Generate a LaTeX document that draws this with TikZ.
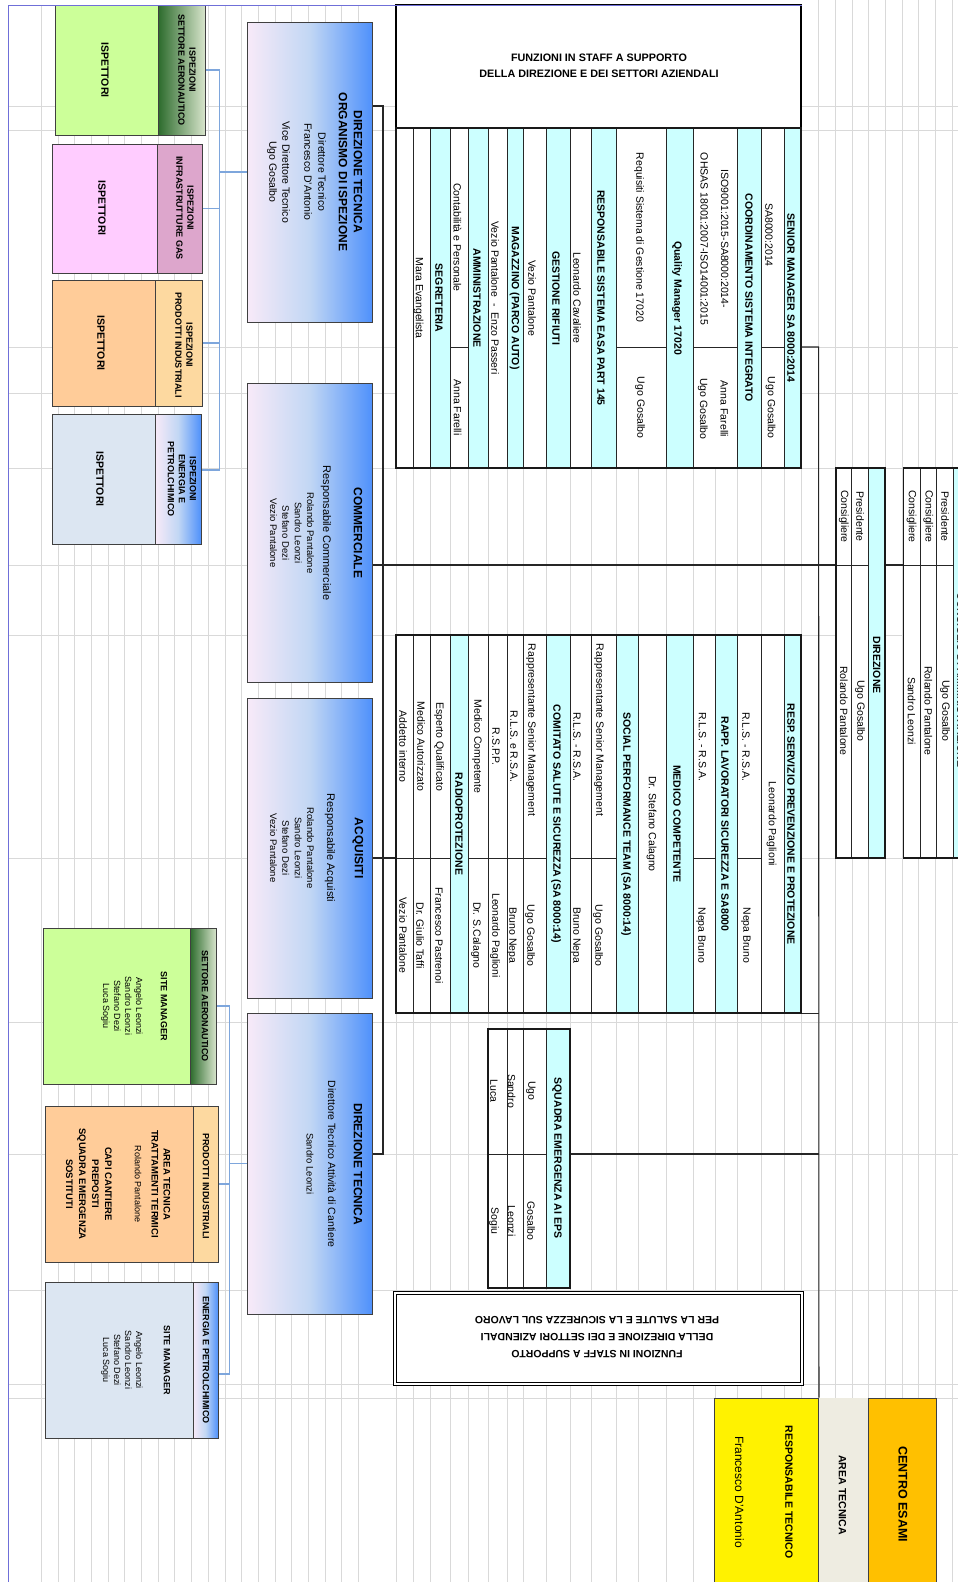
\documentclass[tikz,border=0pt]{standalone}
\usepackage{fontspec}
\setmainfont{Liberation Sans}
\definecolor{cyanfill}{HTML}{CCFFFF}
\definecolor{gridgray}{HTML}{D9D9D9}
\definecolor{framebl}{HTML}{6F6FD8}
\definecolor{linkblue}{HTML}{7EA6DC}
\definecolor{bigleft}{HTML}{F8EAF8}
\definecolor{bigmid}{HTML}{C2D7F4}
\definecolor{bigright}{HTML}{4F91FB}
\definecolor{greenbody}{HTML}{CCFF99}
\definecolor{greendark}{HTML}{2C6B2C}
\definecolor{greenlight}{HTML}{D7E4CB}
\definecolor{pinkbody}{HTML}{FFCCFF}
\definecolor{pinkhead}{HTML}{DDA6CC}
\definecolor{orangebody}{HTML}{FFCC99}
\definecolor{orangehead}{HTML}{FDD9A0}
\definecolor{greybody}{HTML}{DCE6F2}
\definecolor{esamiorange}{HTML}{FFC000}
\definecolor{areabeige}{HTML}{EEECE1}
\tikzset{
%Define line styles
gridline/.style={draw=gridgray, line width=0.8pt},
link/.style={draw=black!85, line width=1.1pt},
bluelink/.style={draw=linkblue, line width=1.1pt},
%Define box styles
box/.style={draw=black!75, line width=1pt, inner sep=0},
cell/.style={draw=black!85, line width=0.7pt, inner sep=0},
outline/.style={draw=black!90, line width=1.2pt, inner sep=0},
bluegrad/.style={left color=bigleft, right color=bigright, middle color=bigmid},
greengrad/.style={left color=greendark, right color=greenlight},
%Define text styles (text runs top to bottom)
lbl/.style={rotate=-90, inner sep=0, align=center, font=\fontsize{10.5}{12}\selectfont},
lblwide/.style={lbl, font=\fontsize{10.5}{20.5}\selectfont},
hdr/.style={lbl, font=\bfseries\fontsize{10.5}{12}\selectfont},
title/.style={lbl, font=\bfseries\fontsize{12}{15}\selectfont},
names/.style={lbl, font=\fontsize{9.5}{12.3}\selectfont},
boxhdr/.style={lbl, font=\bfseries\fontsize{9}{11}\selectfont},
boxtxt/.style={lbl, font=\fontsize{9}{11}\selectfont},
}
\begin{document}
\begin{tikzpicture}[x=1pt,y=-1pt]
\useasboundingbox (0,0) rectangle (958,1582);
\clip (0,0) rectangle (958,1582);
% Spreadsheet grid behind the chart
\foreach \x in {41.2,57.9,...,375} \draw[gridline] (\x,5) -- (\x,1582);
\foreach \x in {396,413,430,450,468.5,488,507,523,546,570,591,616,638,666,693,715,737.5,761.5,784,801} \draw[gridline] (\x,5) -- (\x,1582);
\foreach \x in {818.6,835.3,...,960} \draw[gridline] (\x,0) -- (\x,1582);
\foreach \y in {106,130,347,393,468,565,635,858,1022,1154,1290,1384,1398} \draw[gridline] (8,\y) -- (958,\y);

% Inspection units (top left)
\node[box, fill=greenbody, minimum width=103pt, minimum height=130pt] (insp1) at (106.5,70) {};
\node[box, greengrad, minimum width=47pt, minimum height=130pt] (insp1head) at (181.5,70) {};
\node[box, fill=pinkbody, minimum width=105pt, minimum height=129pt] (insp2) at (104.5,208.5) {};
\node[box, fill=pinkhead, minimum width=45pt, minimum height=129pt] (insp2head) at (179.5,208.5) {};
\node[box, fill=orangebody, minimum width=103pt, minimum height=126pt] (insp3) at (103.5,343) {};
\node[box, fill=orangehead, minimum width=47pt, minimum height=126pt] (insp3head) at (178.5,343) {};
\node[box, fill=greybody, minimum width=103pt, minimum height=130pt] (insp4) at (103.5,479) {};
\node[box, bluegrad, minimum width=46pt, minimum height=130pt] (insp4head) at (178,479) {};
\node[hdr] (insp1lbl) at (105,70) {ISPETTORI};
\node[hdr] (insp2lbl) at (102,208) {ISPETTORI};
\node[hdr] (insp3lbl) at (101,343) {ISPETTORI};
\node[hdr] (insp4lbl) at (100,479) {ISPETTORI};
\node[boxhdr] (insp1txt) at (187,70) {ISPEZIONI\\SETTORE AERONAUTICO};
\node[boxhdr] (insp2txt) at (185,208) {ISPEZIONI\\INFRASTRUTTURE GAS};
\node[boxhdr] (insp3txt) at (184,345) {ISPEZIONI\\PRODOTTI INDUSTRIALI};
\node[boxhdr] (insp4txt) at (182,479) {ISPEZIONI\\ENERGIA E\\PETROLCHIMICO};

% Site units (bottom left)
\node[box, fill=greenbody, minimum width=147pt, minimum height=156pt] (siteA) at (116.5,1006) {};
\node[box, greengrad, minimum width=26pt, minimum height=156pt] (siteAhead) at (203,1006) {};
\node[box, fill=orangebody, minimum width=148pt, minimum height=156pt] (siteB) at (119,1184) {};
\node[box, fill=orangehead, minimum width=25pt, minimum height=156pt] (siteBhead) at (205.5,1184) {};
\node[box, fill=greybody, minimum width=148pt, minimum height=156pt] (siteC) at (119,1360) {};
\node[box, bluegrad, minimum width=25pt, minimum height=156pt] (siteChead) at (205.5,1360) {};
\node[boxhdr] (siteAtxt) at (205,1006) {SETTORE AERONAUTICO};
\node[boxhdr] (siteBtxt) at (206,1186) {PRODOTTI INDUSTRIALI};
\node[boxhdr] (siteCtxt) at (206,1360) {ENERGIA E PETROLCHIMICO};
\node[boxhdr] (siteAttl) at (164,1006) {SITE MANAGER};
\node[boxtxt] (siteAnames) at (122,1006) {Angelo Leonzi\\Sandro Leonzi\\Stefano Dezi\\Luca Sogiu};
\node[boxhdr, font=\bfseries\fontsize{9.5}{12}\selectfont] (siteBttl) at (161,1184) {AREA TECNICA\\TRATTAMENTI TERMICI};
\node[boxtxt] (siteBname) at (138,1184) {Rolando Pantalone};
\node[boxhdr, font=\bfseries\fontsize{9.5}{13}\selectfont] (siteBroles) at (89,1184) {CAPI CANTIERE\\PREPOSTI\\SQUADRA EMERGENZA\\SOSTITUTI};
\node[boxhdr] (siteCttl) at (167,1360) {SITE MANAGER};
\node[boxtxt] (siteCnames) at (122,1360) {Angelo Leonzi\\Sandro Leonzi\\Stefano Dezi\\Luca Sogiu};

% Main departments
\node[box, bluegrad, minimum width=125pt, minimum height=300pt] (orgdir) at (309.5,172) {};
\node[box, bluegrad, minimum width=125pt, minimum height=299pt] (comm) at (309.5,532.5) {};
\node[box, bluegrad, minimum width=125pt, minimum height=300pt] (acq) at (309.5,848) {};
\node[box, bluegrad, minimum width=125pt, minimum height=301pt] (dirtec) at (309.5,1163.5) {};
\node[title] (orgdirttl) at (350.5,172) {DIREZIONE TECNICA\\ORGANISMO DI ISPEZIONE};
\node[lbl, font=\fontsize{10.5}{14}\selectfont] (orgdirtxt) at (315,172) {Direttore Tecnico\\Francesco D'Antonio};
\node[lbl, font=\fontsize{10.5}{13}\selectfont] (orgdirvice) at (278.5,172) {Vice Direttore Tecnico\\Ugo Gosalbo};
\node[title] (commttl) at (358,533) {COMMERCIALE};
\node[lbl, font=\fontsize{11}{12}\selectfont] (commsub) at (326,533) {Responsabile Commerciale};
\node[names] (commnames) at (292,533) {Rolando Pantalone\\Sandro Leonzi\\Stefano Dezi\\Vezio Pantalone};
\node[title] (acqttl) at (358,848) {ACQUISITI};
\node[lbl, font=\fontsize{11}{12}\selectfont] (acqsub) at (330,848) {Responsabile Acquisti};
\node[names] (acqnames) at (292,848) {Rolando Pantalone\\Sandro Leonzi\\Stefano Dezi\\Vezio Pantalone};
\node[title] (dirtecttl) at (358,1164) {DIREZIONE TECNICA};
\node[lbl] (dirtecsub) at (332,1164) {Direttore Tecnico Attività di Cantiere};
\node[names] (dirtecname) at (310,1164) {Sandro Leonzi};

% Blue links to the inspection and site units
\draw[bluelink] (orgdir.west) -- ++(-27,0) coordinate (bus1);
\draw[bluelink] (bus1) |- (insp1head.east);
\draw[bluelink] (bus1) |- (insp2head.east);
\draw[bluelink] (bus1) |- (insp3head.east);
\draw[bluelink] (bus1) |- ([yshift=9pt]insp4head.east);
\draw[bluelink] (dirtec.west) -- ++(-17,0) coordinate (bus2);
\draw[bluelink] (bus2) |- (siteAhead.east);
\draw[bluelink] (bus2) |- (siteBhead.east);
\draw[bluelink] (bus2) |- ([yshift=-14pt]siteChead.east);

% Staff functions boxes
\node[box, draw=black, line width=1.5pt, fill=white, minimum width=405pt, minimum height=123pt] (staffbox) at (598.5,66.5) {};
\node[align=center, inner sep=0, font=\bfseries\fontsize{10.8}{16}\selectfont] (stafftxt) at (599,66) {FUNZIONI IN STAFF A SUPPORTO\\DELLA DIREZIONE E DEI SETTORI AZIENDALI};
\node[box, draw=black, double, double distance=2pt, line width=0.8pt, fill=white, minimum width=407pt, minimum height=91pt] (staffsic) at (598.4,1338.5) {};
\node[rotate=180, align=center, inner sep=0, font=\bfseries\fontsize{10.5}{17}\selectfont] (staffsictxt) at (597,1337.5) {FUNZIONI IN STAFF A SUPPORTO\\DELLA DIREZIONE E DEI SETTORI AZIENDALI\\PER LA SALUTE E LA SICUREZZA SUL LAVORO};

% Table cells: left/right/top/bottom/fill
\foreach \xl/\xr/\yt/\yb/\fc [count=\i, evaluate=\xl as \xm using (\xl+\xr)/2, evaluate=\yt as \ym using (\yt+\yb)/2, evaluate=\xl as \w using \xr-\xl, evaluate=\yt as \h using \yb-\yt] in {
396/413/128/468/white, 413/430/128/468/white, 430/450/128/468/cyanfill,
450/468.5/128/347/white, 450/468.5/347/468/white, 468.5/488/128/468/cyanfill,
488/507/128/468/white, 507/523/128/468/cyanfill, 523/546/128/468/white,
546/570/128/468/cyanfill, 570/591/128/468/white, 591/616/128/468/cyanfill,
616/666/128/347/white, 616/666/347/468/white, 666/693/128/468/cyanfill,
693/737.5/128/347/white, 693/737.5/347/468/white, 737.5/761.5/128/468/cyanfill,
761.5/784/128/347/white, 761.5/784/347/468/white, 784/801/128/468/cyanfill,
396/413/635/858/white, 396/413/858/1013/white, 413/430/635/858/white, 413/430/858/1013/white,
430/450/635/858/white, 430/450/858/1013/white, 450/468.5/635/1013/cyanfill,
468.5/488/635/858/white, 468.5/488/858/1013/white, 488/507/635/858/white, 488/507/858/1013/white,
507/523/635/858/white, 507/523/858/1013/white, 523/546/635/858/white, 523/546/858/1013/white,
546/570/635/1013/cyanfill, 570/591/635/858/white, 570/591/858/1013/white,
591/616/635/858/white, 591/616/858/1013/white, 616/638/635/1013/cyanfill,
638/666/635/1013/white, 666/693/635/1013/cyanfill, 693/715/635/858/white, 693/715/858/1013/white,
715/737.5/635/1013/cyanfill, 737.5/761.5/635/858/white, 737.5/761.5/858/1013/white,
761.5/784/635/1013/white, 784/801/635/1013/cyanfill,
488/507/1029/1154/white, 488/507/1154/1288/white, 507/523/1029/1154/white, 507/523/1154/1288/white,
523/546/1029/1154/white, 523/546/1154/1288/white, 546/570/1029/1288/cyanfill,
835.9/851.8/468/565/white, 835.9/851.8/565/858/white, 851.8/868.4/468/565/white, 851.8/868.4/565/858/white,
868.4/885/468/858/cyanfill,
903.3/920/468/565/white, 903.3/920/565/858/white, 920/936.7/468/565/white, 920/936.7/565/858/white,
936.7/953.3/468/565/white, 936.7/953.3/565/858/white, 953.3/990/468/858/cyanfill}
  \node[cell, fill=\fc, minimum width=\w pt, minimum height=\h pt] (cell\i) at (\xm,\ym) {};

% Table outlines
\node[outline, minimum width=405pt, minimum height=340pt] (staffblk) at (598.5,298) {};
\node[outline, minimum width=405pt, minimum height=378pt] (safeblk) at (598.5,824) {};
\node[outline, minimum width=82pt, minimum height=259pt] (squadblk) at (529,1158.5) {};
\node[outline, minimum width=49.1pt, minimum height=390pt] (dirtab) at (860.45,663) {};
\node[outline, minimum width=86.7pt, minimum height=390pt] (cdatab) at (946.65,663) {};

% Staff functions texts
\foreach \x/\y/\s/\t [count=\j] in {
418.7/298/lbl/{Mara Evangelista}, 439/298/hdr/SEGRETERIA,
457.5/237.5/lbl/{Contabilità e Personale}, 457.5/407.5/lbl/{Anna Farelli},
477/298/hdr/AMMINISTRAZIONE, 495/298/lbl/{Vezio Pantalone~~-~~Enzo Passeri},
514.5/298/hdr/{MAGAZZINO (PARCO AUTO)}, 532/298/lbl/{Vezio Pantalone},
556/298/hdr/{GESTIONE RIFIUTI}, 577/298/lbl/{Leonardo Cavaliere},
601/298/hdr/{RESPONSABILE SISTEMA EASA PART 145},
639/237.5/lbl/{Requisiti Sistema di Gestione 17020}, 640/407.5/lbl/{Ugo Gosalbo},
677/298/hdr/{Quality Manager 17020},
714.5/239/lblwide/{ISO9001:2015-SA8000:2014-\\OHSAS 18001:2007-ISO14001:2015},
713/409/lblwide/{Anna Farelli\\Ugo Gosalbo},
749/298/hdr/{COORDINAMENTO SISTEMA INTEGRATO},
769/235/lbl/{SA8000:2014}, 770.5/407.5/lbl/{Ugo Gosalbo},
791/298/hdr/{SENIOR MANAGER SA 8000:2014}}
  \node[\s] (stafft\j) at (\x,\y) {\t};

% Health and safety texts
\foreach \x/\y/\s/\t [count=\j] in {
403/746.5/lbl/{Addetto interno}, 403/935.5/lbl/{Vezio Pantalone},
421/746.5/lbl/{Medico Autorizzato}, 420/935.5/lbl/{Dr. Giulio Taffi},
439/746.5/lbl/{Esperto Qualificato}, 439/935.5/lbl/{Francesco Pastrenoi},
459/824/hdr/RADIOPROTEZIONE,
477/746.5/lbl/{Medico Competente}, 476/935.5/lbl/{Dr. S.Calagno},
496/746.5/lbl/{R.S.P.P.}, 495/935.5/lbl/{Leonardo Paglioni},
514/746.5/lbl/{R.L.S. e R.S.A.}, 512/935.5/lbl/{Bruno Nepa},
531/730/lbl/{Rappresentante Senior Management}, 530/935.5/lbl/{Ugo Gosalbo},
556/824/hdr/{COMITATO SALUTE E SICUREZZA (SA 8000:14)},
577/746.5/lbl/{R.L.S. - R.S.A.}, 576/935.5/lbl/{Bruno Nepa},
599/730/lbl/{Rappresentante Senior Management}, 598/935.5/lbl/{Ugo Gosalbo},
626/824/hdr/{SOCIAL PERFORMANCE TEAM (SA 8000:14)},
651.5/824/lbl/{Dr. Stefano Calagno}, 677/824/hdr/{MEDICO COMPETENTE},
702.5/746.5/lbl/{R.L.S. - R.S.A.}, 701/935.5/lbl/{Nepa Bruno},
725/824/hdr/{RAPP. LAVORATORI SICUREZZA E SA8000},
746/746.5/lbl/{R.L.S. - R.S.A.}, 746/935.5/lbl/{Nepa Bruno},
771.5/824/lbl/{Leonardo Paglioni},
791/824/hdr/{RESP. SERVIZIO PREVENZIONE E PROTEZIONE},
494/1091/lbl/Luca, 494/1221/lbl/Sogiu, 511.5/1091/lbl/Sandro, 511.5/1221/lbl/Leonzi,
531/1091/lbl/Ugo, 531/1221/lbl/Gosalbo, 557/1158/hdr/{SQUADRA EMERGENZA AI EPS}}
  \node[\s] (safet\j) at (\x,\y) {\t};

% Board tables
\foreach \x/\y/\s/\t [count=\j] in {
843.8/516.5/lbl/Consigliere, 860/516.5/lbl/Presidente,
843.8/711/lbl/{Rolando Pantalone}, 860/711/lbl/{Ugo Gosalbo},
876.7/665/hdr/DIREZIONE,
911.6/516.5/lbl/Consigliere, 928.3/516.5/lbl/Consigliere, 945/516.5/lbl/Presidente,
911.6/711/lbl/{Sandro Leonzi}, 928.3/711/lbl/{Rolando Pantalone}, 945/711/lbl/{Ugo Gosalbo},
961/680/hdr/{CONSIGLIO DI AMMINISTRAZIONE}}
  \node[\s] (boardt\j) at (\x,\y) {\t};

% Exam centre (bottom right)
\node[box, line width=0.7pt, fill=yellow, minimum width=103.9pt, minimum height=200pt] (resptec) at (766.65,1498) {};
\node[box, draw=none, fill=areabeige, minimum width=49.8pt, minimum height=200pt] (areatec) at (843.5,1498) {};
\node[box, line width=0.7pt, fill=esamiorange, minimum width=68.2pt, minimum height=200pt] (centro) at (902.5,1498) {};
\node[hdr] (resptecttl) at (789,1492) {RESPONSABILE TECNICO};
\node[lbl, font=\fontsize{12}{14}\selectfont] (resptecname) at (739.4,1492) {Francesco D'Antonio};
\node[hdr] (areatecttl) at (842.6,1495) {AREA TECNICA};
\node[lbl, font=\bfseries\fontsize{12.5}{14}\selectfont] (centrottl) at (903,1494) {CENTRO ESAMI};

% Black links
\coordinate (ltop) at (383,106);
\coordinate (lbot) at (383,1154);
\coordinate (crow) at (383,565);
\coordinate (arow) at (383,858);
\coordinate (rtop) at (818.6,347);
\draw[link] (orgdir.east |- ltop) -- (ltop) -- (lbot) -- (dirtec.east |- lbot);
\draw[link] (comm.east |- crow) -- (dirtab.west |- crow);
\draw[link] (dirtab.east |- crow) -- (cdatab.west |- crow);
\draw[link] (acq.east |- arow) -- (safeblk.west |- arow);
\draw[link] (staffblk.east |- rtop) -- (rtop) -- (resptec.north east);
\draw[link] (safeblk.south east) -- (safeblk.south east -| rtop);
\draw[link] (squadblk.east |- lbot) -- (squadblk.east |- lbot -| rtop);

% Print area frame
\draw[framebl, line width=1pt] (8,1582) -- (8,5) -- (802,5);
\end{tikzpicture}
\end{document}
